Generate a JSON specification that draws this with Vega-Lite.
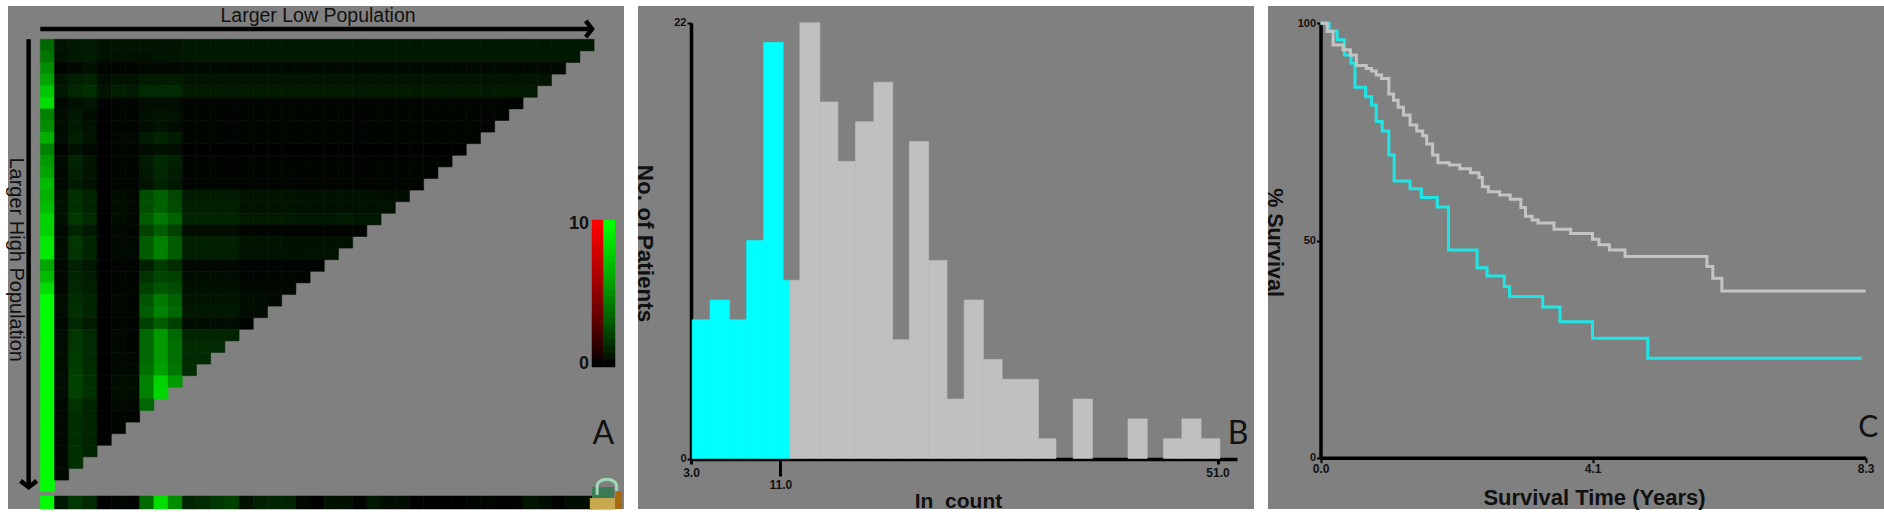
{"$schema":"https://vega.github.io/schema/vega-lite/v6.json","background":"#ffffff","padding":{"left":6,"top":6,"right":0,"bottom":0},"spacing":14,"bounds":"flush","config":{"view":{"fill":"#808080","stroke":null},"font":"Liberation Sans","axis":{"grid":false,"labelFontWeight":"bold","labelFont":"Liberation Sans","labelColor":"#111111","tickColor":"#000000","domainColor":"#000000","titleColor":"#111111","titleFont":"Liberation Sans","titleFontWeight":"bold","labelOverlap":false,"labelFlush":false,"zindex":1}},"datasets":{"cells":[
{"r":0,"c":0,"v":3.5},{"r":0,"c":1,"v":0.5},{"r":0,"c":2,"v":0.6},{"r":0,"c":3,"v":0.7},{"r":0,"c":4,"v":0.5},{"r":0,"c":5,"v":0.5},{"r":0,"c":6,"v":0.5},{"r":0,"c":7,"v":0.5},{"r":0,"c":8,"v":0.5},{"r":0,"c":9,"v":0.5},{"r":0,"c":10,"v":0.6},{"r":0,"c":11,"v":0.6},{"r":0,"c":12,"v":0.6},{"r":0,"c":13,"v":0.6},{"r":0,"c":14,"v":0.6},{"r":0,"c":15,"v":0.6},{"r":0,"c":16,"v":0.6},{"r":0,"c":17,"v":0.6},{"r":0,"c":18,"v":0.6},{"r":0,"c":19,"v":0.6},{"r":0,"c":20,"v":0.6},{"r":0,"c":21,"v":0.6},{"r":0,"c":22,"v":0.6},{"r":0,"c":23,"v":0.6},{"r":0,"c":24,"v":0.6},{"r":0,"c":25,"v":0.6},{"r":0,"c":26,"v":0.6},{"r":0,"c":27,"v":0.6},{"r":0,"c":28,"v":0.6},{"r":0,"c":29,"v":0.6},{"r":0,"c":30,"v":0.6},{"r":0,"c":31,"v":0.6},{"r":0,"c":32,"v":0.6},{"r":0,"c":33,"v":0.6},{"r":0,"c":34,"v":0.6},{"r":0,"c":35,"v":0.6},{"r":0,"c":36,"v":0.6},{"r":0,"c":37,"v":0.6},{"r":0,"c":38,"v":0.6},
{"r":1,"c":0,"v":4},{"r":1,"c":1,"v":0.4},{"r":1,"c":2,"v":0.6},{"r":1,"c":3,"v":0.7},{"r":1,"c":4,"v":0.4},{"r":1,"c":5,"v":0.4},{"r":1,"c":6,"v":0.4},{"r":1,"c":7,"v":0.4},{"r":1,"c":8,"v":0.5},{"r":1,"c":9,"v":0.5},{"r":1,"c":10,"v":0.6},{"r":1,"c":11,"v":0.6},{"r":1,"c":12,"v":0.6},{"r":1,"c":13,"v":0.6},{"r":1,"c":14,"v":0.6},{"r":1,"c":15,"v":0.6},{"r":1,"c":16,"v":0.6},{"r":1,"c":17,"v":0.6},{"r":1,"c":18,"v":0.6},{"r":1,"c":19,"v":0.6},{"r":1,"c":20,"v":0.6},{"r":1,"c":21,"v":0.6},{"r":1,"c":22,"v":0.6},{"r":1,"c":23,"v":0.6},{"r":1,"c":24,"v":0.6},{"r":1,"c":25,"v":0.6},{"r":1,"c":26,"v":0.6},{"r":1,"c":27,"v":0.6},{"r":1,"c":28,"v":0.6},{"r":1,"c":29,"v":0.6},{"r":1,"c":30,"v":0.6},{"r":1,"c":31,"v":0.6},{"r":1,"c":32,"v":0.6},{"r":1,"c":33,"v":0.6},{"r":1,"c":34,"v":0.6},{"r":1,"c":35,"v":0.6},{"r":1,"c":36,"v":0.6},{"r":1,"c":37,"v":0.6},
{"r":2,"c":0,"v":5},{"r":2,"c":1,"v":0.1},{"r":2,"c":2,"v":0.2},{"r":2,"c":3,"v":0.4},{"r":2,"c":4,"v":0.1},{"r":2,"c":5,"v":0.1},{"r":2,"c":6,"v":0.1},{"r":2,"c":7,"v":0.2},{"r":2,"c":8,"v":0.2},{"r":2,"c":9,"v":0.2},{"r":2,"c":10,"v":0.2},{"r":2,"c":11,"v":0.2},{"r":2,"c":12,"v":0.2},{"r":2,"c":13,"v":0.2},{"r":2,"c":14,"v":0.2},{"r":2,"c":15,"v":0.2},{"r":2,"c":16,"v":0.2},{"r":2,"c":17,"v":0.2},{"r":2,"c":18,"v":0.2},{"r":2,"c":19,"v":0.2},{"r":2,"c":20,"v":0.2},{"r":2,"c":21,"v":0.2},{"r":2,"c":22,"v":0.2},{"r":2,"c":23,"v":0.2},{"r":2,"c":24,"v":0.2},{"r":2,"c":25,"v":0.2},{"r":2,"c":26,"v":0.2},{"r":2,"c":27,"v":0.2},{"r":2,"c":28,"v":0.2},{"r":2,"c":29,"v":0.2},{"r":2,"c":30,"v":0.2},{"r":2,"c":31,"v":0.2},{"r":2,"c":32,"v":0.2},{"r":2,"c":33,"v":0.2},{"r":2,"c":34,"v":0.2},{"r":2,"c":35,"v":0.2},{"r":2,"c":36,"v":0.2},
{"r":3,"c":0,"v":6},{"r":3,"c":1,"v":0.5},{"r":3,"c":2,"v":0.8},{"r":3,"c":3,"v":1},{"r":3,"c":4,"v":0.3},{"r":3,"c":5,"v":0.5},{"r":3,"c":6,"v":0.4},{"r":3,"c":7,"v":0.7},{"r":3,"c":8,"v":0.7},{"r":3,"c":9,"v":0.7},{"r":3,"c":10,"v":0.5},{"r":3,"c":11,"v":0.5},{"r":3,"c":12,"v":0.5},{"r":3,"c":13,"v":0.5},{"r":3,"c":14,"v":0.5},{"r":3,"c":15,"v":0.5},{"r":3,"c":16,"v":0.5},{"r":3,"c":17,"v":0.5},{"r":3,"c":18,"v":0.5},{"r":3,"c":19,"v":0.5},{"r":3,"c":20,"v":0.5},{"r":3,"c":21,"v":0.5},{"r":3,"c":22,"v":0.5},{"r":3,"c":23,"v":0.5},{"r":3,"c":24,"v":0.5},{"r":3,"c":25,"v":0.5},{"r":3,"c":26,"v":0.5},{"r":3,"c":27,"v":0.5},{"r":3,"c":28,"v":0.5},{"r":3,"c":29,"v":0.5},{"r":3,"c":30,"v":0.5},{"r":3,"c":31,"v":0.5},{"r":3,"c":32,"v":0.5},{"r":3,"c":33,"v":0.5},{"r":3,"c":34,"v":0.5},{"r":3,"c":35,"v":0.5},
{"r":4,"c":0,"v":7.5},{"r":4,"c":1,"v":0.6},{"r":4,"c":2,"v":1.1},{"r":4,"c":3,"v":1.4},{"r":4,"c":4,"v":0.5},{"r":4,"c":5,"v":0.8},{"r":4,"c":6,"v":0.7},{"r":4,"c":7,"v":1.2},{"r":4,"c":8,"v":1.2},{"r":4,"c":9,"v":1.2},{"r":4,"c":10,"v":0.7},{"r":4,"c":11,"v":0.7},{"r":4,"c":12,"v":0.7},{"r":4,"c":13,"v":0.7},{"r":4,"c":14,"v":0.7},{"r":4,"c":15,"v":0.7},{"r":4,"c":16,"v":0.7},{"r":4,"c":17,"v":0.7},{"r":4,"c":18,"v":0.7},{"r":4,"c":19,"v":0.7},{"r":4,"c":20,"v":0.7},{"r":4,"c":21,"v":0.7},{"r":4,"c":22,"v":0.7},{"r":4,"c":23,"v":0.7},{"r":4,"c":24,"v":0.7},{"r":4,"c":25,"v":0.7},{"r":4,"c":26,"v":0.7},{"r":4,"c":27,"v":0.7},{"r":4,"c":28,"v":0.7},{"r":4,"c":29,"v":0.7},{"r":4,"c":30,"v":0.7},{"r":4,"c":31,"v":0.7},{"r":4,"c":32,"v":0.7},{"r":4,"c":33,"v":0.7},{"r":4,"c":34,"v":0.7},
{"r":5,"c":0,"v":8.5},{"r":5,"c":1,"v":0.2},{"r":5,"c":2,"v":0.4},{"r":5,"c":3,"v":0.5},{"r":5,"c":4,"v":0.1},{"r":5,"c":5,"v":0.1},{"r":5,"c":6,"v":0.1},{"r":5,"c":7,"v":0.3},{"r":5,"c":8,"v":0.3},{"r":5,"c":9,"v":0.3},{"r":5,"c":10,"v":0.1},{"r":5,"c":11,"v":0.1},{"r":5,"c":12,"v":0.1},{"r":5,"c":13,"v":0.1},{"r":5,"c":14,"v":0.1},{"r":5,"c":15,"v":0.1},{"r":5,"c":16,"v":0.1},{"r":5,"c":17,"v":0.1},{"r":5,"c":18,"v":0.1},{"r":5,"c":19,"v":0.1},{"r":5,"c":20,"v":0.1},{"r":5,"c":21,"v":0.1},{"r":5,"c":22,"v":0.1},{"r":5,"c":23,"v":0.1},{"r":5,"c":24,"v":0.1},{"r":5,"c":25,"v":0.1},{"r":5,"c":26,"v":0.1},{"r":5,"c":27,"v":0.1},{"r":5,"c":28,"v":0.1},{"r":5,"c":29,"v":0.1},{"r":5,"c":30,"v":0.1},{"r":5,"c":31,"v":0.1},{"r":5,"c":32,"v":0.1},{"r":5,"c":33,"v":0.1},
{"r":6,"c":0,"v":4.5},{"r":6,"c":1,"v":0.3},{"r":6,"c":2,"v":0.6},{"r":6,"c":3,"v":0.3},{"r":6,"c":4,"v":0},{"r":6,"c":5,"v":0.1},{"r":6,"c":6,"v":0.1},{"r":6,"c":7,"v":0.4},{"r":6,"c":8,"v":0.5},{"r":6,"c":9,"v":0.4},{"r":6,"c":10,"v":0.1},{"r":6,"c":11,"v":0.1},{"r":6,"c":12,"v":0.1},{"r":6,"c":13,"v":0.1},{"r":6,"c":14,"v":0.1},{"r":6,"c":15,"v":0.1},{"r":6,"c":16,"v":0.1},{"r":6,"c":17,"v":0.1},{"r":6,"c":18,"v":0.1},{"r":6,"c":19,"v":0.1},{"r":6,"c":20,"v":0.1},{"r":6,"c":21,"v":0.1},{"r":6,"c":22,"v":0.1},{"r":6,"c":23,"v":0.1},{"r":6,"c":24,"v":0.1},{"r":6,"c":25,"v":0.1},{"r":6,"c":26,"v":0.1},{"r":6,"c":27,"v":0.1},{"r":6,"c":28,"v":0.1},{"r":6,"c":29,"v":0.1},{"r":6,"c":30,"v":0.1},{"r":6,"c":31,"v":0.1},{"r":6,"c":32,"v":0.1},
{"r":7,"c":0,"v":5},{"r":7,"c":1,"v":0.3},{"r":7,"c":2,"v":0.7},{"r":7,"c":3,"v":0.4},{"r":7,"c":4,"v":0},{"r":7,"c":5,"v":0.1},{"r":7,"c":6,"v":0.1},{"r":7,"c":7,"v":0.3},{"r":7,"c":8,"v":0.5},{"r":7,"c":9,"v":0.3},{"r":7,"c":10,"v":0.1},{"r":7,"c":11,"v":0.1},{"r":7,"c":12,"v":0.1},{"r":7,"c":13,"v":0.1},{"r":7,"c":14,"v":0.1},{"r":7,"c":15,"v":0.1},{"r":7,"c":16,"v":0.1},{"r":7,"c":17,"v":0.1},{"r":7,"c":18,"v":0.1},{"r":7,"c":19,"v":0.1},{"r":7,"c":20,"v":0.1},{"r":7,"c":21,"v":0.1},{"r":7,"c":22,"v":0.1},{"r":7,"c":23,"v":0.1},{"r":7,"c":24,"v":0.1},{"r":7,"c":25,"v":0.1},{"r":7,"c":26,"v":0.1},{"r":7,"c":27,"v":0.1},{"r":7,"c":28,"v":0.1},{"r":7,"c":29,"v":0.1},{"r":7,"c":30,"v":0.1},{"r":7,"c":31,"v":0.1},
{"r":8,"c":0,"v":6.5},{"r":8,"c":1,"v":0.3},{"r":8,"c":2,"v":0.8},{"r":8,"c":3,"v":0.5},{"r":8,"c":4,"v":0},{"r":8,"c":5,"v":0.2},{"r":8,"c":6,"v":0.2},{"r":8,"c":7,"v":0.7},{"r":8,"c":8,"v":1},{"r":8,"c":9,"v":0.7},{"r":8,"c":10,"v":0.1},{"r":8,"c":11,"v":0.1},{"r":8,"c":12,"v":0.1},{"r":8,"c":13,"v":0.1},{"r":8,"c":14,"v":0.1},{"r":8,"c":15,"v":0.1},{"r":8,"c":16,"v":0.1},{"r":8,"c":17,"v":0.1},{"r":8,"c":18,"v":0.1},{"r":8,"c":19,"v":0.1},{"r":8,"c":20,"v":0.1},{"r":8,"c":21,"v":0.1},{"r":8,"c":22,"v":0.1},{"r":8,"c":23,"v":0.1},{"r":8,"c":24,"v":0.1},{"r":8,"c":25,"v":0.1},{"r":8,"c":26,"v":0.1},{"r":8,"c":27,"v":0.1},{"r":8,"c":28,"v":0.1},{"r":8,"c":29,"v":0.1},{"r":8,"c":30,"v":0.1},
{"r":9,"c":0,"v":4.5},{"r":9,"c":1,"v":0.1},{"r":9,"c":2,"v":0.4},{"r":9,"c":3,"v":0.2},{"r":9,"c":4,"v":0},{"r":9,"c":5,"v":0.1},{"r":9,"c":6,"v":0.1},{"r":9,"c":7,"v":0.3},{"r":9,"c":8,"v":0.4},{"r":9,"c":9,"v":0.3},{"r":9,"c":10,"v":0},{"r":9,"c":11,"v":0},{"r":9,"c":12,"v":0},{"r":9,"c":13,"v":0},{"r":9,"c":14,"v":0},{"r":9,"c":15,"v":0},{"r":9,"c":16,"v":0},{"r":9,"c":17,"v":0},{"r":9,"c":18,"v":0},{"r":9,"c":19,"v":0},{"r":9,"c":20,"v":0},{"r":9,"c":21,"v":0},{"r":9,"c":22,"v":0},{"r":9,"c":23,"v":0},{"r":9,"c":24,"v":0},{"r":9,"c":25,"v":0},{"r":9,"c":26,"v":0},{"r":9,"c":27,"v":0},{"r":9,"c":28,"v":0},{"r":9,"c":29,"v":0},
{"r":10,"c":0,"v":5.5},{"r":10,"c":1,"v":0.3},{"r":10,"c":2,"v":1},{"r":10,"c":3,"v":0.5},{"r":10,"c":4,"v":0},{"r":10,"c":5,"v":0.1},{"r":10,"c":6,"v":0.1},{"r":10,"c":7,"v":0.7},{"r":10,"c":8,"v":1.2},{"r":10,"c":9,"v":0.9},{"r":10,"c":10,"v":0.1},{"r":10,"c":11,"v":0.1},{"r":10,"c":12,"v":0.1},{"r":10,"c":13,"v":0.1},{"r":10,"c":14,"v":0.1},{"r":10,"c":15,"v":0.1},{"r":10,"c":16,"v":0.1},{"r":10,"c":17,"v":0.1},{"r":10,"c":18,"v":0.1},{"r":10,"c":19,"v":0.1},{"r":10,"c":20,"v":0.1},{"r":10,"c":21,"v":0.1},{"r":10,"c":22,"v":0.1},{"r":10,"c":23,"v":0.1},{"r":10,"c":24,"v":0.1},{"r":10,"c":25,"v":0.1},{"r":10,"c":26,"v":0.1},{"r":10,"c":27,"v":0.1},{"r":10,"c":28,"v":0.1},
{"r":11,"c":0,"v":6},{"r":11,"c":1,"v":0.2},{"r":11,"c":2,"v":0.8},{"r":11,"c":3,"v":0.5},{"r":11,"c":4,"v":0},{"r":11,"c":5,"v":0.1},{"r":11,"c":6,"v":0.1},{"r":11,"c":7,"v":0.6},{"r":11,"c":8,"v":1.1},{"r":11,"c":9,"v":0.7},{"r":11,"c":10,"v":0.1},{"r":11,"c":11,"v":0.1},{"r":11,"c":12,"v":0.1},{"r":11,"c":13,"v":0.1},{"r":11,"c":14,"v":0.1},{"r":11,"c":15,"v":0.1},{"r":11,"c":16,"v":0.1},{"r":11,"c":17,"v":0.1},{"r":11,"c":18,"v":0.1},{"r":11,"c":19,"v":0.1},{"r":11,"c":20,"v":0.1},{"r":11,"c":21,"v":0.1},{"r":11,"c":22,"v":0.1},{"r":11,"c":23,"v":0.1},{"r":11,"c":24,"v":0.1},{"r":11,"c":25,"v":0.1},{"r":11,"c":26,"v":0.1},{"r":11,"c":27,"v":0.1},
{"r":12,"c":0,"v":7},{"r":12,"c":1,"v":0.2},{"r":12,"c":2,"v":0.7},{"r":12,"c":3,"v":0.4},{"r":12,"c":4,"v":0},{"r":12,"c":5,"v":0.1},{"r":12,"c":6,"v":0.1},{"r":12,"c":7,"v":0.5},{"r":12,"c":8,"v":1},{"r":12,"c":9,"v":0.6},{"r":12,"c":10,"v":0.1},{"r":12,"c":11,"v":0.1},{"r":12,"c":12,"v":0.1},{"r":12,"c":13,"v":0.1},{"r":12,"c":14,"v":0.1},{"r":12,"c":15,"v":0.1},{"r":12,"c":16,"v":0.1},{"r":12,"c":17,"v":0.1},{"r":12,"c":18,"v":0.1},{"r":12,"c":19,"v":0.1},{"r":12,"c":20,"v":0.1},{"r":12,"c":21,"v":0.1},{"r":12,"c":22,"v":0.1},{"r":12,"c":23,"v":0.1},{"r":12,"c":24,"v":0.1},{"r":12,"c":25,"v":0.1},{"r":12,"c":26,"v":0.1},
{"r":13,"c":0,"v":6.5},{"r":13,"c":1,"v":0.4},{"r":13,"c":2,"v":1.4},{"r":13,"c":3,"v":1},{"r":13,"c":4,"v":0},{"r":13,"c":5,"v":0.3},{"r":13,"c":6,"v":0.2},{"r":13,"c":7,"v":2.5},{"r":13,"c":8,"v":3.2},{"r":13,"c":9,"v":2.2},{"r":13,"c":10,"v":0.7},{"r":13,"c":11,"v":0.7},{"r":13,"c":12,"v":0.7},{"r":13,"c":13,"v":0.7},{"r":13,"c":14,"v":0.5},{"r":13,"c":15,"v":0.5},{"r":13,"c":16,"v":0.5},{"r":13,"c":17,"v":0.5},{"r":13,"c":18,"v":0.4},{"r":13,"c":19,"v":0.4},{"r":13,"c":20,"v":0.4},{"r":13,"c":21,"v":0.4},{"r":13,"c":22,"v":0.4},{"r":13,"c":23,"v":0.4},{"r":13,"c":24,"v":0.3},{"r":13,"c":25,"v":0.3},
{"r":14,"c":0,"v":7},{"r":14,"c":1,"v":0.4},{"r":14,"c":2,"v":1.4},{"r":14,"c":3,"v":1},{"r":14,"c":4,"v":0},{"r":14,"c":5,"v":0.3},{"r":14,"c":6,"v":0.2},{"r":14,"c":7,"v":2.5},{"r":14,"c":8,"v":3.2},{"r":14,"c":9,"v":2.4},{"r":14,"c":10,"v":0.8},{"r":14,"c":11,"v":0.8},{"r":14,"c":12,"v":0.8},{"r":14,"c":13,"v":0.8},{"r":14,"c":14,"v":0.5},{"r":14,"c":15,"v":0.5},{"r":14,"c":16,"v":0.5},{"r":14,"c":17,"v":0.5},{"r":14,"c":18,"v":0.4},{"r":14,"c":19,"v":0.4},{"r":14,"c":20,"v":0.4},{"r":14,"c":21,"v":0.4},{"r":14,"c":22,"v":0.4},{"r":14,"c":23,"v":0.4},{"r":14,"c":24,"v":0.4},
{"r":15,"c":0,"v":8},{"r":15,"c":1,"v":0.4},{"r":15,"c":2,"v":1.7},{"r":15,"c":3,"v":1.2},{"r":15,"c":4,"v":0},{"r":15,"c":5,"v":0.3},{"r":15,"c":6,"v":0.2},{"r":15,"c":7,"v":3},{"r":15,"c":8,"v":4.2},{"r":15,"c":9,"v":3.2},{"r":15,"c":10,"v":1},{"r":15,"c":11,"v":1},{"r":15,"c":12,"v":1},{"r":15,"c":13,"v":1},{"r":15,"c":14,"v":0.7},{"r":15,"c":15,"v":0.7},{"r":15,"c":16,"v":0.7},{"r":15,"c":17,"v":0.7},{"r":15,"c":18,"v":0.6},{"r":15,"c":19,"v":0.6},{"r":15,"c":20,"v":0.6},{"r":15,"c":21,"v":0.7},{"r":15,"c":22,"v":0.6},{"r":15,"c":23,"v":0.6},
{"r":16,"c":0,"v":8},{"r":16,"c":1,"v":0.2},{"r":16,"c":2,"v":1},{"r":16,"c":3,"v":0.6},{"r":16,"c":4,"v":0},{"r":16,"c":5,"v":0.2},{"r":16,"c":6,"v":0.1},{"r":16,"c":7,"v":2},{"r":16,"c":8,"v":3},{"r":16,"c":9,"v":2},{"r":16,"c":10,"v":0.3},{"r":16,"c":11,"v":0.3},{"r":16,"c":12,"v":0.3},{"r":16,"c":13,"v":0.3},{"r":16,"c":14,"v":0.1},{"r":16,"c":15,"v":0.1},{"r":16,"c":16,"v":0.1},{"r":16,"c":17,"v":0.1},{"r":16,"c":18,"v":0.1},{"r":16,"c":19,"v":0.1},{"r":16,"c":20,"v":0.1},{"r":16,"c":21,"v":0.1},{"r":16,"c":22,"v":0.1},
{"r":17,"c":0,"v":9},{"r":17,"c":1,"v":0.3},{"r":17,"c":2,"v":1.6},{"r":17,"c":3,"v":1},{"r":17,"c":4,"v":0},{"r":17,"c":5,"v":0.2},{"r":17,"c":6,"v":0.2},{"r":17,"c":7,"v":3},{"r":17,"c":8,"v":4.5},{"r":17,"c":9,"v":3},{"r":17,"c":10,"v":0.9},{"r":17,"c":11,"v":0.9},{"r":17,"c":12,"v":0.9},{"r":17,"c":13,"v":0.9},{"r":17,"c":14,"v":0.5},{"r":17,"c":15,"v":0.5},{"r":17,"c":16,"v":0.5},{"r":17,"c":17,"v":0.4},{"r":17,"c":18,"v":0.4},{"r":17,"c":19,"v":0.4},{"r":17,"c":20,"v":0.4},{"r":17,"c":21,"v":0.4},
{"r":18,"c":0,"v":9},{"r":18,"c":1,"v":0.3},{"r":18,"c":2,"v":1.5},{"r":18,"c":3,"v":1},{"r":18,"c":4,"v":0},{"r":18,"c":5,"v":0.2},{"r":18,"c":6,"v":0.2},{"r":18,"c":7,"v":3},{"r":18,"c":8,"v":4.5},{"r":18,"c":9,"v":3},{"r":18,"c":10,"v":0.8},{"r":18,"c":11,"v":0.8},{"r":18,"c":12,"v":0.8},{"r":18,"c":13,"v":0.8},{"r":18,"c":14,"v":0.4},{"r":18,"c":15,"v":0.4},{"r":18,"c":16,"v":0.4},{"r":18,"c":17,"v":0.4},{"r":18,"c":18,"v":0.4},{"r":18,"c":19,"v":0.4},{"r":18,"c":20,"v":0.4},
{"r":19,"c":0,"v":6},{"r":19,"c":1,"v":0.2},{"r":19,"c":2,"v":0.9},{"r":19,"c":3,"v":0.6},{"r":19,"c":4,"v":0},{"r":19,"c":5,"v":0.1},{"r":19,"c":6,"v":0.1},{"r":19,"c":7,"v":0.9},{"r":19,"c":8,"v":1.8},{"r":19,"c":9,"v":1.2},{"r":19,"c":10,"v":0.2},{"r":19,"c":11,"v":0.2},{"r":19,"c":12,"v":0.2},{"r":19,"c":13,"v":0.2},{"r":19,"c":14,"v":0.1},{"r":19,"c":15,"v":0.1},{"r":19,"c":16,"v":0.1},{"r":19,"c":17,"v":0.1},{"r":19,"c":18,"v":0.1},{"r":19,"c":19,"v":0.1},
{"r":20,"c":0,"v":7},{"r":20,"c":1,"v":0.2},{"r":20,"c":2,"v":1},{"r":20,"c":3,"v":0.7},{"r":20,"c":4,"v":0},{"r":20,"c":5,"v":0.1},{"r":20,"c":6,"v":0.1},{"r":20,"c":7,"v":1.5},{"r":20,"c":8,"v":2.2},{"r":20,"c":9,"v":2},{"r":20,"c":10,"v":0.3},{"r":20,"c":11,"v":0.3},{"r":20,"c":12,"v":0.3},{"r":20,"c":13,"v":0.3},{"r":20,"c":14,"v":0.1},{"r":20,"c":15,"v":0.1},{"r":20,"c":16,"v":0.1},{"r":20,"c":17,"v":0.1},{"r":20,"c":18,"v":0.1},
{"r":21,"c":0,"v":8.5},{"r":21,"c":1,"v":0.2},{"r":21,"c":2,"v":1.1},{"r":21,"c":3,"v":0.8},{"r":21,"c":4,"v":0},{"r":21,"c":5,"v":0.1},{"r":21,"c":6,"v":0.1},{"r":21,"c":7,"v":2},{"r":21,"c":8,"v":2.8},{"r":21,"c":9,"v":2.4},{"r":21,"c":10,"v":0.4},{"r":21,"c":11,"v":0.4},{"r":21,"c":12,"v":0.4},{"r":21,"c":13,"v":0.4},{"r":21,"c":14,"v":0.2},{"r":21,"c":15,"v":0.2},{"r":21,"c":16,"v":0.2},{"r":21,"c":17,"v":0.2},
{"r":22,"c":0,"v":10},{"r":22,"c":1,"v":0.3},{"r":22,"c":2,"v":1.3},{"r":22,"c":3,"v":1},{"r":22,"c":4,"v":0},{"r":22,"c":5,"v":0.2},{"r":22,"c":6,"v":0.1},{"r":22,"c":7,"v":2.8},{"r":22,"c":8,"v":4.2},{"r":22,"c":9,"v":3.2},{"r":22,"c":10,"v":0.5},{"r":22,"c":11,"v":0.5},{"r":22,"c":12,"v":0.5},{"r":22,"c":13,"v":0.5},{"r":22,"c":14,"v":0.3},{"r":22,"c":15,"v":0.3},{"r":22,"c":16,"v":0.2},
{"r":23,"c":0,"v":10},{"r":23,"c":1,"v":0.3},{"r":23,"c":2,"v":1.4},{"r":23,"c":3,"v":1},{"r":23,"c":4,"v":0},{"r":23,"c":5,"v":0.2},{"r":23,"c":6,"v":0.1},{"r":23,"c":7,"v":3},{"r":23,"c":8,"v":4.5},{"r":23,"c":9,"v":3.5},{"r":23,"c":10,"v":0.6},{"r":23,"c":11,"v":0.6},{"r":23,"c":12,"v":0.6},{"r":23,"c":13,"v":0.6},{"r":23,"c":14,"v":0.3},{"r":23,"c":15,"v":0.3},
{"r":24,"c":0,"v":10},{"r":24,"c":1,"v":0.2},{"r":24,"c":2,"v":1.1},{"r":24,"c":3,"v":0.7},{"r":24,"c":4,"v":0},{"r":24,"c":5,"v":0.1},{"r":24,"c":6,"v":0.1},{"r":24,"c":7,"v":2},{"r":24,"c":8,"v":3},{"r":24,"c":9,"v":2},{"r":24,"c":10,"v":0.3},{"r":24,"c":11,"v":0.3},{"r":24,"c":12,"v":0.3},{"r":24,"c":13,"v":0.3},{"r":24,"c":14,"v":0.1},
{"r":25,"c":0,"v":10},{"r":25,"c":1,"v":0.3},{"r":25,"c":2,"v":1.6},{"r":25,"c":3,"v":1.2},{"r":25,"c":4,"v":0},{"r":25,"c":5,"v":0.2},{"r":25,"c":6,"v":0.1},{"r":25,"c":7,"v":3.5},{"r":25,"c":8,"v":5.5},{"r":25,"c":9,"v":3.5},{"r":25,"c":10,"v":1},{"r":25,"c":11,"v":1},{"r":25,"c":12,"v":1},{"r":25,"c":13,"v":1},
{"r":26,"c":0,"v":10},{"r":26,"c":1,"v":0.3},{"r":26,"c":2,"v":1.6},{"r":26,"c":3,"v":1.2},{"r":26,"c":4,"v":0},{"r":26,"c":5,"v":0.2},{"r":26,"c":6,"v":0.1},{"r":26,"c":7,"v":3.5},{"r":26,"c":8,"v":5.5},{"r":26,"c":9,"v":3.8},{"r":26,"c":10,"v":1.2},{"r":26,"c":11,"v":1.2},{"r":26,"c":12,"v":1.2},
{"r":27,"c":0,"v":10},{"r":27,"c":1,"v":0.3},{"r":27,"c":2,"v":1.8},{"r":27,"c":3,"v":1.2},{"r":27,"c":4,"v":0},{"r":27,"c":5,"v":0.2},{"r":27,"c":6,"v":0.2},{"r":27,"c":7,"v":3.5},{"r":27,"c":8,"v":5.5},{"r":27,"c":9,"v":3.8},{"r":27,"c":10,"v":1.2},{"r":27,"c":11,"v":1.2},
{"r":28,"c":0,"v":10},{"r":28,"c":1,"v":0.3},{"r":28,"c":2,"v":1.9},{"r":28,"c":3,"v":1.3},{"r":28,"c":4,"v":0},{"r":28,"c":5,"v":0.2},{"r":28,"c":6,"v":0.2},{"r":28,"c":7,"v":3.8},{"r":28,"c":8,"v":5.8},{"r":28,"c":9,"v":4},{"r":28,"c":10,"v":1.3},
{"r":29,"c":0,"v":10},{"r":29,"c":1,"v":0.3},{"r":29,"c":2,"v":2},{"r":29,"c":3,"v":1.4},{"r":29,"c":4,"v":0},{"r":29,"c":5,"v":0.3},{"r":29,"c":6,"v":0.3},{"r":29,"c":7,"v":4.5},{"r":29,"c":8,"v":8},{"r":29,"c":9,"v":5.5},
{"r":30,"c":0,"v":10},{"r":30,"c":1,"v":0.3},{"r":30,"c":2,"v":2},{"r":30,"c":3,"v":1.4},{"r":30,"c":4,"v":0},{"r":30,"c":5,"v":0.3},{"r":30,"c":6,"v":0.3},{"r":30,"c":7,"v":4.5},{"r":30,"c":8,"v":8.2},
{"r":31,"c":0,"v":10},{"r":31,"c":1,"v":0.2},{"r":31,"c":2,"v":1.5},{"r":31,"c":3,"v":1},{"r":31,"c":4,"v":0},{"r":31,"c":5,"v":0.2},{"r":31,"c":6,"v":0.2},{"r":31,"c":7,"v":3.5},
{"r":32,"c":0,"v":10},{"r":32,"c":1,"v":0.2},{"r":32,"c":2,"v":1.3},{"r":32,"c":3,"v":1},{"r":32,"c":4,"v":0},{"r":32,"c":5,"v":0.1},{"r":32,"c":6,"v":0.1},
{"r":33,"c":0,"v":10},{"r":33,"c":1,"v":0.2},{"r":33,"c":2,"v":1.3},{"r":33,"c":3,"v":1},{"r":33,"c":4,"v":0},{"r":33,"c":5,"v":0.1},
{"r":34,"c":0,"v":10},{"r":34,"c":1,"v":0.2},{"r":34,"c":2,"v":1.3},{"r":34,"c":3,"v":1},{"r":34,"c":4,"v":0},
{"r":35,"c":0,"v":10},{"r":35,"c":1,"v":0.2},{"r":35,"c":2,"v":1.4},{"r":35,"c":3,"v":1},
{"r":36,"c":0,"v":10},{"r":36,"c":1,"v":0.2},{"r":36,"c":2,"v":1.4},
{"r":37,"c":0,"v":10},{"r":37,"c":1,"v":0.2},
{"r":38,"c":0,"v":10}],
"strip":[{"lane":"strip","c":0,"v":10},{"lane":"strip","c":1,"v":0.6},{"lane":"strip","c":2,"v":1.6},{"lane":"strip","c":3,"v":1.2},{"lane":"strip","c":4,"v":0},{"lane":"strip","c":5,"v":0.1},{"lane":"strip","c":6,"v":0.1},{"lane":"strip","c":7,"v":3.5},{"lane":"strip","c":8,"v":8.5},{"lane":"strip","c":9,"v":5},{"lane":"strip","c":10,"v":1},{"lane":"strip","c":11,"v":1.2},{"lane":"strip","c":12,"v":1.6},{"lane":"strip","c":13,"v":2},{"lane":"strip","c":14,"v":0.4},{"lane":"strip","c":15,"v":0.8},{"lane":"strip","c":16,"v":1},{"lane":"strip","c":17,"v":1},{"lane":"strip","c":18,"v":0.2},{"lane":"strip","c":19,"v":0},{"lane":"strip","c":20,"v":0.4},{"lane":"strip","c":21,"v":0.4},{"lane":"strip","c":22,"v":0.1},{"lane":"strip","c":23,"v":0.6},{"lane":"strip","c":24,"v":0.3},{"lane":"strip","c":25,"v":0.3},{"lane":"strip","c":26,"v":0},{"lane":"strip","c":27,"v":0},{"lane":"strip","c":28,"v":0},{"lane":"strip","c":29,"v":0},{"lane":"strip","c":30,"v":0.1},{"lane":"strip","c":31,"v":0.1},{"lane":"strip","c":32,"v":0.05},{"lane":"strip","c":33,"v":0.05},{"lane":"strip","c":34,"v":0.5},{"lane":"strip","c":35,"v":0.3},{"lane":"strip","c":36,"v":0.05},{"lane":"strip","c":37,"v":0.3},{"lane":"strip","c":38,"v":0.3}],
"bar":[{"ch":"red","s":10,"v":-10},{"ch":"red","s":9.5,"v":-9.5},{"ch":"red","s":9,"v":-9},{"ch":"red","s":8.5,"v":-8.5},{"ch":"red","s":8,"v":-8},{"ch":"red","s":7.5,"v":-7.5},{"ch":"red","s":7,"v":-7},{"ch":"red","s":6.5,"v":-6.5},{"ch":"red","s":6,"v":-6},{"ch":"red","s":5.5,"v":-5.5},{"ch":"red","s":5,"v":-5},{"ch":"red","s":4.5,"v":-4.5},{"ch":"red","s":4,"v":-4},{"ch":"red","s":3.5,"v":-3.5},{"ch":"red","s":3,"v":-3},{"ch":"red","s":2.5,"v":-2.5},{"ch":"red","s":2,"v":-2},{"ch":"red","s":1.5,"v":-1.5},{"ch":"red","s":1,"v":-1},{"ch":"red","s":0.5,"v":-0.5},{"ch":"red","s":0,"v":0},{"ch":"green","s":10,"v":10},{"ch":"green","s":9.5,"v":9.5},{"ch":"green","s":9,"v":9},{"ch":"green","s":8.5,"v":8.5},{"ch":"green","s":8,"v":8},{"ch":"green","s":7.5,"v":7.5},{"ch":"green","s":7,"v":7},{"ch":"green","s":6.5,"v":6.5},{"ch":"green","s":6,"v":6},{"ch":"green","s":5.5,"v":5.5},{"ch":"green","s":5,"v":5},{"ch":"green","s":4.5,"v":4.5},{"ch":"green","s":4,"v":4},{"ch":"green","s":3.5,"v":3.5},{"ch":"green","s":3,"v":3},{"ch":"green","s":2.5,"v":2.5},{"ch":"green","s":2,"v":2},{"ch":"green","s":1.5,"v":1.5},{"ch":"green","s":1,"v":1},{"ch":"green","s":0.5,"v":0.5},{"ch":"green","s":0,"v":0}]},
"hconcat":[
{"width":616,"height":503,"resolve":{"scale":{"x":"independent","y":"independent"}},"layer":[
{"data":{"name":"cells"},"mark":{"type":"rect","strokeWidth":0.5},"encoding":{"x":{"field":"c","type":"ordinal","axis":null,"scale":{"type":"band","range":[32.3,586.1],"paddingInner":0,"paddingOuter":0}},"y":{"field":"r","type":"ordinal","axis":null,"scale":{"type":"band","range":[33.3,485.7],"paddingInner":0,"paddingOuter":0}},"color":{"field":"v","type":"quantitative","legend":null,"scale":{"type":"pow","exponent":0.85,"domain":[-10,0,10],"range":["#ff0000","#000000","#00ff00"],"interpolate":"rgb"}},"stroke":{"field":"v","type":"quantitative","legend":null,"scale":{"type":"pow","exponent":0.85,"domain":[-10,0,10],"range":["#ff0000","#000000","#00ff00"],"interpolate":"rgb"}}}},
{"data":{"name":"strip"},"mark":{"type":"rect","strokeWidth":0.5},"encoding":{"x":{"field":"c","type":"ordinal","axis":null,"scale":{"type":"band","range":[32.3,586.1],"paddingInner":0,"paddingOuter":0}},"y":{"field":"lane","type":"nominal","axis":null,"scale":{"type":"band","range":[490,503],"paddingInner":0,"paddingOuter":0}},"color":{"field":"v","type":"quantitative","legend":null,"scale":{"type":"pow","exponent":0.85,"domain":[-10,0,10],"range":["#ff0000","#000000","#00ff00"],"interpolate":"rgb"}},"stroke":{"field":"v","type":"quantitative","legend":null,"scale":{"type":"pow","exponent":0.85,"domain":[-10,0,10],"range":["#ff0000","#000000","#00ff00"],"interpolate":"rgb"}}}},
{"data":{"name":"bar"},"mark":{"type":"rect","strokeWidth":0.5},"encoding":{"x":{"field":"ch","type":"nominal","axis":null,"scale":{"type":"band","domain":["label","red","green"],"range":[572.5,607],"paddingInner":0,"paddingOuter":0}},"y":{"field":"s","type":"ordinal","axis":null,"sort":"descending","scale":{"type":"band","range":[214,361],"paddingInner":0,"paddingOuter":0}},"color":{"field":"v","type":"quantitative","legend":null,"scale":{"type":"pow","exponent":0.85,"domain":[-10,0,10],"range":["#ff0000","#000000","#00ff00"],"interpolate":"rgb"}},"stroke":{"field":"v","type":"quantitative","legend":null,"scale":{"type":"pow","exponent":0.85,"domain":[-10,0,10],"range":["#ff0000","#000000","#00ff00"],"interpolate":"rgb"}}}},
{"data":{"values":[{"ch":"label","s":10,"t":"10"},{"ch":"label","s":0,"t":"0"}]},"mark":{"type":"text","align":"right","baseline":"middle","fontSize":18,"fontWeight":"bold","color":"#111111","dx":-3},"encoding":{"x":{"field":"ch","type":"nominal","axis":null,"bandPosition":1,"scale":{"type":"band","domain":["label","red","green"],"range":[572.5,607],"paddingInner":0,"paddingOuter":0}},"y":{"field":"s","type":"ordinal","axis":null,"sort":"descending","scale":{"type":"band","domain":[10,9.5,9,8.5,8,7.5,7,6.5,6,5.5,5,4.5,4,3.5,3,2.5,2,1.5,1,0.5,0],"range":[214,361],"paddingInner":0,"paddingOuter":0}},"text":{"field":"t"}}},
{"data":{"values":[{"col":0,"col2":38.7,"row":-0.89}]},"mark":{"type":"rule","strokeWidth":4.5,"color":"#000000"},"encoding":{"x":{"field":"col","type":"quantitative","axis":null,"scale":{"domain":[0,39],"range":[32.3,586.1]}},"x2":{"field":"col2"},"y":{"field":"row","type":"quantitative","axis":null,"scale":{"domain":[0,39],"range":[33.3,485.7]}}}},
{"data":{"values":[{"col":-0.82,"row":0,"row2":38.5}]},"mark":{"type":"rule","strokeWidth":4.5,"color":"#000000"},"encoding":{"x":{"field":"col","type":"quantitative","axis":null,"scale":{"domain":[0,39],"range":[32.3,586.1]}},"y":{"field":"row","type":"quantitative","axis":null,"scale":{"domain":[0,39],"range":[33.3,485.7]}},"y2":{"field":"row2"}}},
{"data":{"values":[{"col":38.6,"row":-0.89}]},"mark":{"type":"point","shape":"M-0.3,-0.9L0.4,0L-0.3,0.9","filled":false,"stroke":"#000000","strokeWidth":4.5,"size":324,"opacity":1},"encoding":{"x":{"field":"col","type":"quantitative","axis":null,"scale":{"domain":[0,39],"range":[32.3,586.1]}},"y":{"field":"row","type":"quantitative","axis":null,"scale":{"domain":[0,39],"range":[33.3,485.7]}}}},
{"data":{"values":[{"col":-0.82,"row":38.3}]},"mark":{"type":"point","shape":"M-0.9,-0.3L0,0.4L0.9,-0.3","filled":false,"stroke":"#000000","strokeWidth":4.5,"size":324,"opacity":1},"encoding":{"x":{"field":"col","type":"quantitative","axis":null,"scale":{"domain":[0,39],"range":[32.3,586.1]}},"y":{"field":"row","type":"quantitative","axis":null,"scale":{"domain":[0,39],"range":[33.3,485.7]}}}},
{"data":{"values":[{"col":19.56,"row":-1.97,"t":"Larger Low Population"}]},"mark":{"type":"text","fontSize":19.5,"color":"#111111","baseline":"middle"},"encoding":{"x":{"field":"col","type":"quantitative","axis":null,"scale":{"domain":[0,39],"range":[32.3,586.1]}},"y":{"field":"row","type":"quantitative","axis":null,"scale":{"domain":[0,39],"range":[33.3,485.7]}},"text":{"field":"t"}}},
{"data":{"values":[{"col":-1.68,"row":19,"t":"Larger High Population"}]},"mark":{"type":"text","fontSize":20,"color":"#111111","baseline":"middle","angle":90},"encoding":{"x":{"field":"col","type":"quantitative","axis":null,"scale":{"domain":[0,39],"range":[32.3,586.1]}},"y":{"field":"row","type":"quantitative","axis":null,"scale":{"domain":[0,39],"range":[33.3,485.7]}},"text":{"field":"t"}}},
{"data":{"values":[{"col":39.65,"row":34,"t":"A"}]},"mark":{"type":"text","fontSize":32,"font":"Lato","color":"#111111","baseline":"middle"},"encoding":{"x":{"field":"col","type":"quantitative","axis":null,"scale":{"domain":[0,39],"range":[32.3,586.1]}},"y":{"field":"row","type":"quantitative","axis":null,"scale":{"domain":[0,39],"range":[33.3,485.7]}},"text":{"field":"t"}}},
{"data":{"values":[{"col":38.85,"col2":40.4,"row":38.6,"row2":39.55}]},"mark":{"type":"rect","color":"#3d7a55","strokeWidth":0},"encoding":{"x":{"field":"col","type":"quantitative","axis":null,"scale":{"domain":[0,39],"range":[32.3,586.1]}},"x2":{"field":"col2"},"y":{"field":"row","type":"quantitative","axis":null,"scale":{"domain":[0,39],"range":[33.3,485.7]}},"y2":{"field":"row2"}}},
{"data":{"values":[{"col":39.9,"row":38.76}]},"mark":{"type":"point","shape":"M-0.75,0.45L-0.75,-0.2A0.75,0.55 0 0 1 0.75,-0.2L0.75,0.45","filled":false,"stroke":"#9fd8b8","strokeWidth":3,"size":676,"opacity":1},"encoding":{"x":{"field":"col","type":"quantitative","axis":null,"scale":{"domain":[0,39],"range":[32.3,586.1]}},"y":{"field":"row","type":"quantitative","axis":null,"scale":{"domain":[0,39],"range":[33.3,485.7]}}}},
{"data":{"values":[{"col":38.7,"col2":40.48,"row":39.55,"row2":40.55}]},"mark":{"type":"rect","color":"#c9a94f","strokeWidth":0},"encoding":{"x":{"field":"col","type":"quantitative","axis":null,"scale":{"domain":[0,39],"range":[32.3,586.1]}},"x2":{"field":"col2"},"y":{"field":"row","type":"quantitative","axis":null,"scale":{"domain":[0,39],"range":[33.3,485.7]}},"y2":{"field":"row2"}}},
{"data":{"values":[{"col":40.48,"col2":40.97,"row":38.95,"row2":40.5}]},"mark":{"type":"rect","color":"#a86a10","strokeWidth":0},"encoding":{"x":{"field":"col","type":"quantitative","axis":null,"scale":{"domain":[0,39],"range":[32.3,586.1]}},"x2":{"field":"col2"},"y":{"field":"row","type":"quantitative","axis":null,"scale":{"domain":[0,39],"range":[33.3,485.7]}},"y2":{"field":"row2"}}}
]},
{"width":616,"height":503,"layer":[
{"data":{"values":[{"lo":3.1,"hi":4.71,"n":7,"group":"low"},{"lo":4.71,"hi":6.45,"n":8,"group":"low"},{"lo":6.45,"hi":7.98,"n":7,"group":"low"},{"lo":7.98,"hi":9.51,"n":11,"group":"low"},{"lo":9.51,"hi":11.26,"n":21,"group":"low"},{"lo":11.26,"hi":11.9,"n":9,"group":"low"},{"lo":11.9,"hi":12.79,"n":9,"group":"high"},{"lo":12.79,"hi":14.62,"n":22,"group":"high"},{"lo":14.62,"hi":16.27,"n":18,"group":"high"},{"lo":16.27,"hi":17.88,"n":15,"group":"high"},{"lo":17.88,"hi":19.56,"n":17,"group":"high"},{"lo":19.56,"hi":21.28,"n":19,"group":"high"},{"lo":21.28,"hi":22.81,"n":6,"group":"high"},{"lo":22.81,"hi":24.57,"n":16,"group":"high"},{"lo":24.57,"hi":26.25,"n":10,"group":"high"},{"lo":26.25,"hi":27.82,"n":3,"group":"high"},{"lo":27.82,"hi":29.58,"n":8,"group":"high"},{"lo":29.58,"hi":31.3,"n":5,"group":"high"},{"lo":31.3,"hi":32.98,"n":4,"group":"high"},{"lo":32.98,"hi":34.62,"n":4,"group":"high"},{"lo":34.62,"hi":36.23,"n":1,"group":"high"},{"lo":37.8,"hi":39.56,"n":3,"group":"high"},{"lo":42.81,"hi":44.57,"n":2,"group":"high"},{"lo":46.06,"hi":47.74,"n":1,"group":"high"},{"lo":47.74,"hi":49.5,"n":2,"group":"high"},{"lo":49.5,"hi":51.22,"n":1,"group":"high"}]},"mark":{"type":"rect","strokeWidth":0.6},"encoding":{"x":{"field":"lo","type":"quantitative","scale":{"domain":[3,11,51,52.75],"range":[53,142.3,579.5,599],"padding":0,"zero":false,"nice":false},"axis":{"title":"In\u00a0\u00a0count","titleFontSize":21,"titleX":320,"titleY":42,"titleAlign":"center","titleBaseline":"middle","values":[3,11,51],"format":".1f","offset":-50,"domainWidth":3.5,"tickWidth":3,"tickSize":{"condition":{"test":"datum.value===11","value":17},"value":5},"labelPadding":3,"labelFontSize":12}},"x2":{"field":"hi"},"y":{"field":"n","type":"quantitative","scale":{"domain":[0,22],"range":[452.5,16.7],"padding":0,"nice":false},"axis":{"title":"No. of Patients","titleFontSize":22.5,"titleAngle":90,"titleX":-47,"titleY":237,"titleAlign":"center","titleBaseline":"middle","values":[0,22],"offset":-53,"domainWidth":3.5,"tickWidth":2,"tickSize":4,"labelFontSize":11,"labelPadding":1}},"y2":{"datum":0},"color":{"field":"group","type":"nominal","legend":null,"scale":{"domain":["low","high"],"range":["#00ffff","#c0c0c0"]}},"stroke":{"field":"group","type":"nominal","legend":null,"scale":{"domain":["low","high"],"range":["#00ffff","#c0c0c0"]}}}},
{"data":{"values":[{"lo":52.84,"n":1.26,"t":"B"}]},"mark":{"type":"text","font":"Lato","fontSize":32,"color":"#111111","baseline":"middle"},"encoding":{"x":{"field":"lo","type":"quantitative"},"y":{"field":"n","type":"quantitative"},"text":{"field":"t"}}}
]},
{"width":618,"height":503,"layer":[
{"data":{"values":[{"t":0,"s":100,"g":"low"},{"t":0.13,"s":98.2,"g":"low"},{"t":0.25,"s":96.2,"g":"low"},{"t":0.36,"s":92.7,"g":"low"},{"t":0.46,"s":90.8,"g":"low"},{"t":0.52,"s":85.3,"g":"low"},{"t":0.68,"s":83.1,"g":"low"},{"t":0.77,"s":81.2,"g":"low"},{"t":0.84,"s":77.4,"g":"low"},{"t":0.93,"s":75.2,"g":"low"},{"t":1.03,"s":69.7,"g":"low"},{"t":1.11,"s":63.7,"g":"low"},{"t":1.35,"s":61.9,"g":"low"},{"t":1.52,"s":59.9,"g":"low"},{"t":1.76,"s":57.7,"g":"low"},{"t":1.93,"s":47.8,"g":"low"},{"t":2.36,"s":43.7,"g":"low"},{"t":2.51,"s":41.8,"g":"low"},{"t":2.77,"s":39.4,"g":"low"},{"t":2.85,"s":37.1,"g":"low"},{"t":3.35,"s":34.7,"g":"low"},{"t":3.61,"s":31.3,"g":"low"},{"t":4.1,"s":27.5,"g":"low"},{"t":4.95,"s":22.9,"g":"low"},{"t":8.24,"s":22.9,"g":"low"},{"t":0,"s":100,"g":"high"},{"t":0.1,"s":98.1,"g":"high"},{"t":0.19,"s":95,"g":"high"},{"t":0.34,"s":93.9,"g":"high"},{"t":0.45,"s":92.7,"g":"high"},{"t":0.54,"s":90.3,"g":"high"},{"t":0.69,"s":89.6,"g":"high"},{"t":0.77,"s":89,"g":"high"},{"t":0.84,"s":88.1,"g":"high"},{"t":0.92,"s":87.3,"g":"high"},{"t":1.03,"s":83.7,"g":"high"},{"t":1.1,"s":82.3,"g":"high"},{"t":1.17,"s":80.7,"g":"high"},{"t":1.25,"s":78.9,"g":"high"},{"t":1.35,"s":76.6,"g":"high"},{"t":1.45,"s":75.2,"g":"high"},{"t":1.54,"s":74.1,"g":"high"},{"t":1.6,"s":72.2,"g":"high"},{"t":1.69,"s":69.7,"g":"high"},{"t":1.77,"s":67.9,"g":"high"},{"t":1.94,"s":67.4,"g":"high"},{"t":2.1,"s":66.5,"g":"high"},{"t":2.26,"s":65.6,"g":"high"},{"t":2.39,"s":64.5,"g":"high"},{"t":2.44,"s":62.4,"g":"high"},{"t":2.53,"s":61.2,"g":"high"},{"t":2.7,"s":60.5,"g":"high"},{"t":2.86,"s":59.5,"g":"high"},{"t":3.02,"s":57.6,"g":"high"},{"t":3.09,"s":55.6,"g":"high"},{"t":3.19,"s":54.7,"g":"high"},{"t":3.28,"s":54,"g":"high"},{"t":3.52,"s":52.6,"g":"high"},{"t":3.77,"s":51.6,"g":"high"},{"t":4.1,"s":50.3,"g":"high"},{"t":4.2,"s":49,"g":"high"},{"t":4.36,"s":47.8,"g":"high"},{"t":4.6,"s":46.3,"g":"high"},{"t":5.86,"s":44,"g":"high"},{"t":5.95,"s":41.3,"g":"high"},{"t":6.09,"s":38.4,"g":"high"},{"t":8.3,"s":38.4,"g":"high"}]},"mark":{"type":"line","interpolate":"step-after","strokeWidth":3},"encoding":{"x":{"field":"t","type":"quantitative","scale":{"domain":[0,4.1,8.3],"range":[52.5,324.5,597.6],"zero":false,"nice":false},"axis":{"title":"Survival Time (Years)","titleFontSize":22,"titleX":326,"titleY":40,"titleAlign":"center","titleBaseline":"middle","values":[0,4.1,8.3],"format":".1f","offset":-51.3,"domainWidth":3.5,"tickWidth":2,"tickSize":5,"labelFontSize":12,"labelPadding":1}},"y":{"field":"s","type":"quantitative","scale":{"domain":[0,100],"range":[451.7,17.3],"nice":false},"axis":{"title":"% Survival","titleFontSize":21.5,"titleAngle":90,"titleX":-47,"titleY":236,"titleAlign":"center","titleBaseline":"middle","values":[0,50,100],"offset":-52.5,"domainWidth":3.5,"tickWidth":2,"tickSize":4,"labelFontSize":11,"labelPadding":1}},"color":{"field":"g","type":"nominal","legend":null,"sort":null,"scale":{"domain":["low","high"],"range":["#1fe6e6","#c4c4c4"]}}}},
{"data":{"values":[{"t":8.34,"s":6.8,"l":"C"}]},"mark":{"type":"text","font":"Lato","fontSize":30,"color":"#111111","baseline":"middle"},"encoding":{"x":{"field":"t","type":"quantitative"},"y":{"field":"s","type":"quantitative"},"text":{"field":"l"}}}
]}
]}
